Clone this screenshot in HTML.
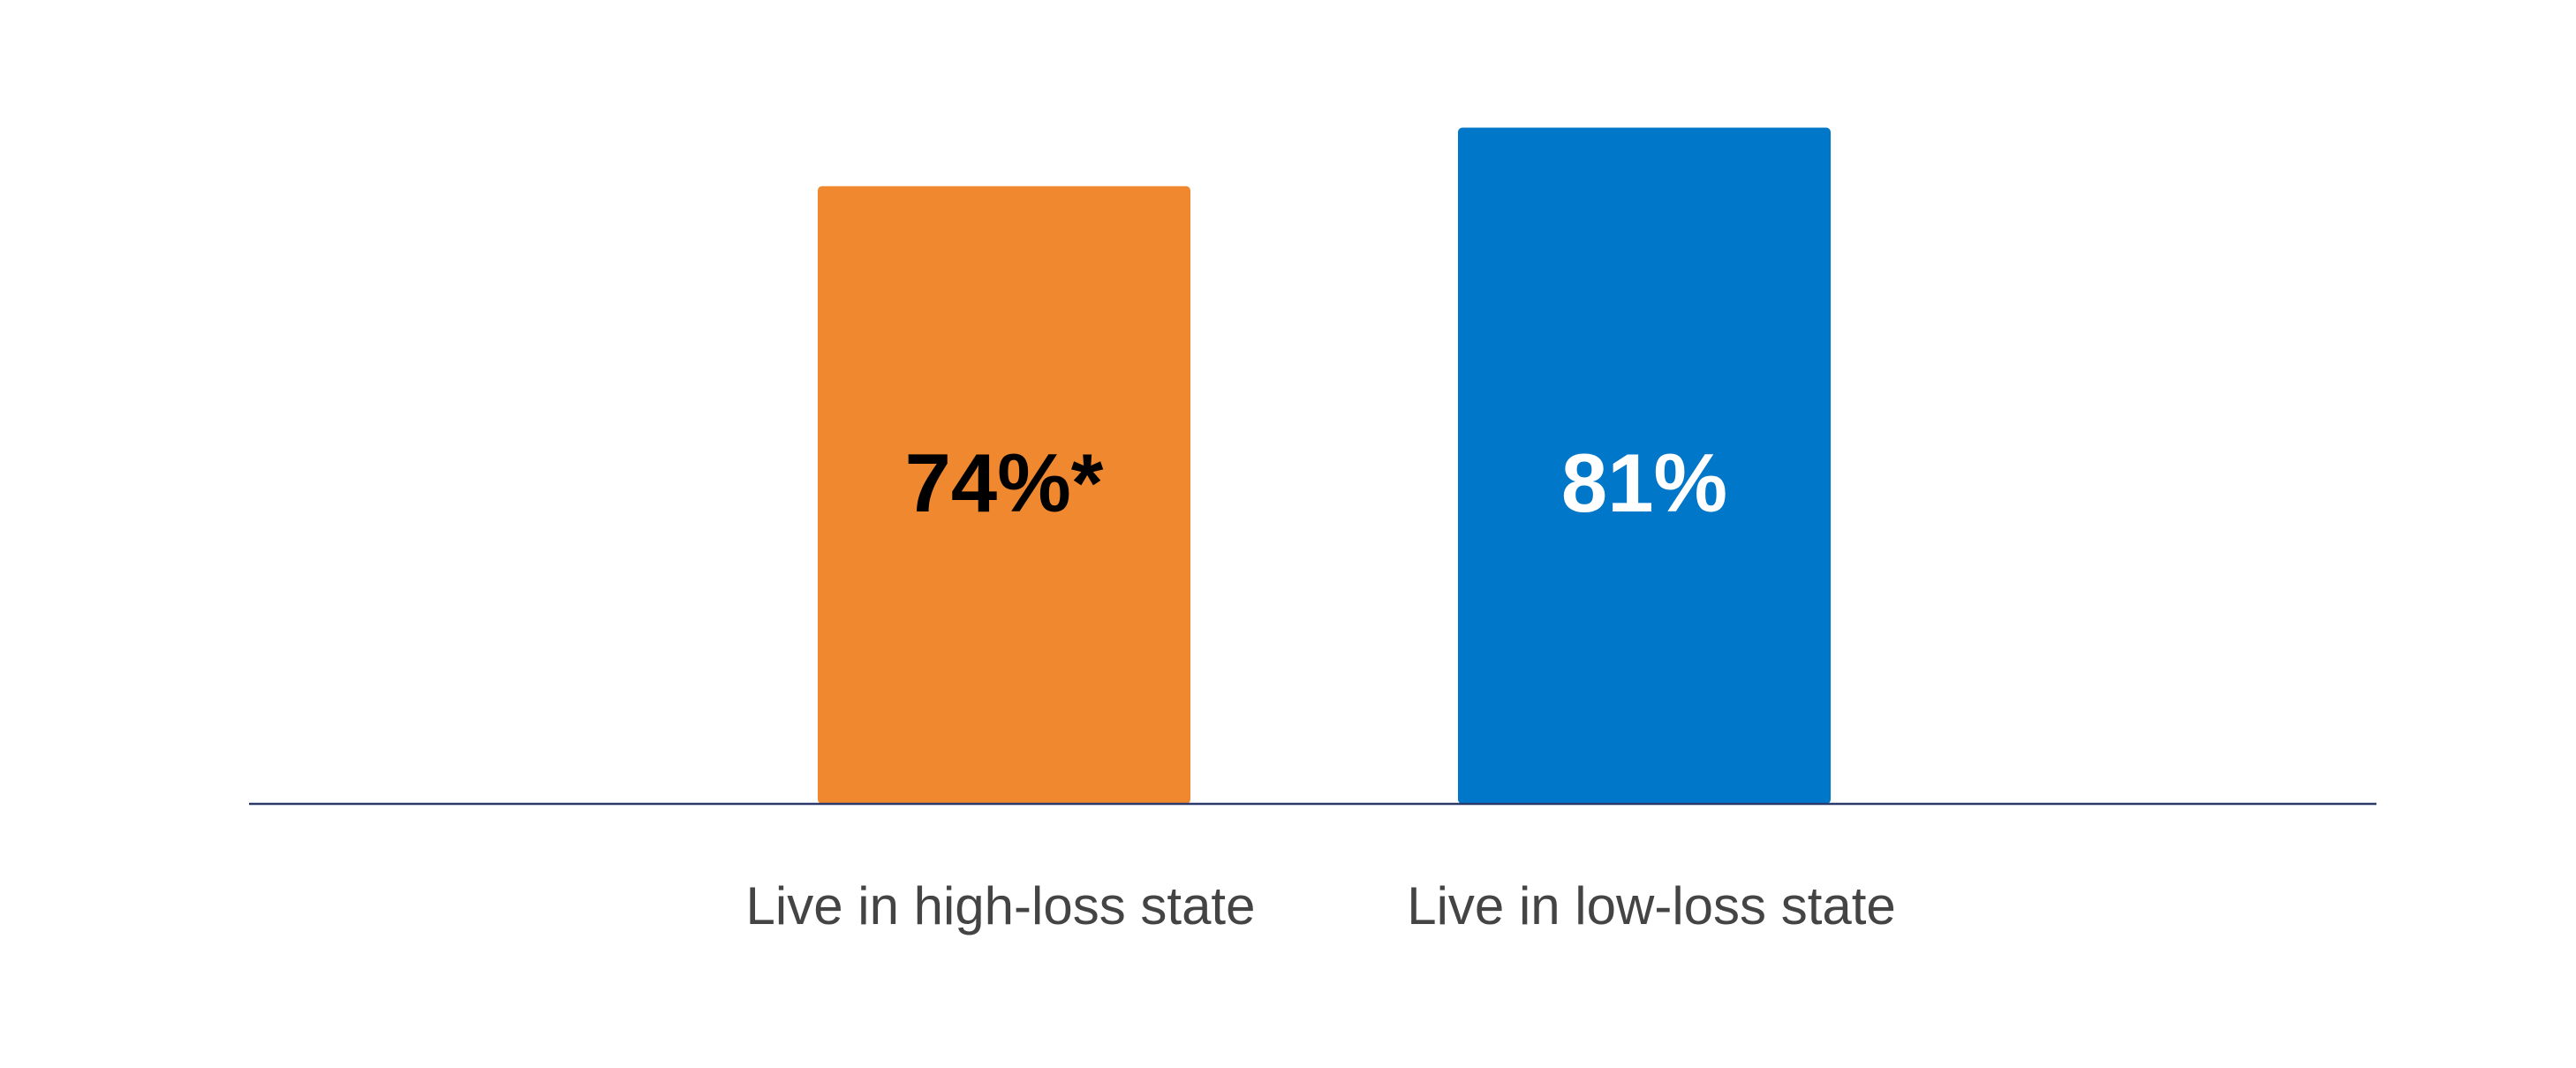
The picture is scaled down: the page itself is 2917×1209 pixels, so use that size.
<!DOCTYPE html>
<html><head><meta charset="utf-8"><style>
html,body{margin:0;padding:0;background:#fff;}
svg{display:block;}
</style></head><body>
<svg width="2917" height="1209" viewBox="0 0 2917 1209" xmlns="http://www.w3.org/2000/svg">
<g id="bars"></g>
<line x1="282" y1="910" x2="2691" y2="910" stroke="#2b3a6b" stroke-width="2.5"/>
</svg>
<script>
const categories = ["Live in high-loss state", "Live in low-loss state"];
const values = [74, 81];
const valueLabels = ["74%*", "81%"];
const colors = ["#ef882f", "#0077c8"];
const textColors = ["#000000", "#ffffff"];

const baseY = 910, pxPerUnit = 9.45;
const centers = [1137, 1862], barW = 422;
function y(v){ return baseY - v * pxPerUnit; }
const g = document.getElementById('bars');
const NS = "http://www.w3.org/2000/svg";
categories.forEach((c, i) => {
  const r = document.createElementNS(NS, 'rect');
  r.setAttribute('x', centers[i] - barW/2);
  r.setAttribute('y', y(values[i]));
  r.setAttribute('width', barW);
  r.setAttribute('height', baseY - y(values[i]));
  r.setAttribute('rx', 5);
  r.setAttribute('fill', colors[i]);
  
  
  g.appendChild(r);
  const t = document.createElementNS(NS, 'text');
  t.setAttribute('x', centers[i]);
  t.setAttribute('y', 579);
  t.setAttribute('text-anchor', 'middle');
  t.setAttribute('font-family', '"Liberation Sans", sans-serif');
  t.setAttribute('font-weight', 'bold');
  t.setAttribute('font-size', '94');
  t.setAttribute('fill', textColors[i]);
  t.textContent = valueLabels[i];
  
  
  g.appendChild(t);
  const l = document.createElementNS(NS, 'text');
  l.setAttribute('x', centers[i] + (i === 0 ? -4 : 8));
  l.setAttribute('y', 1046);
  l.setAttribute('text-anchor', 'middle');
  l.setAttribute('font-family', '"Liberation Sans", sans-serif');
  l.setAttribute('font-size', '60');
  l.setAttribute('fill', '#444444');
  l.textContent = c;
  
  
  g.appendChild(l);
});
</script>
</body></html>
